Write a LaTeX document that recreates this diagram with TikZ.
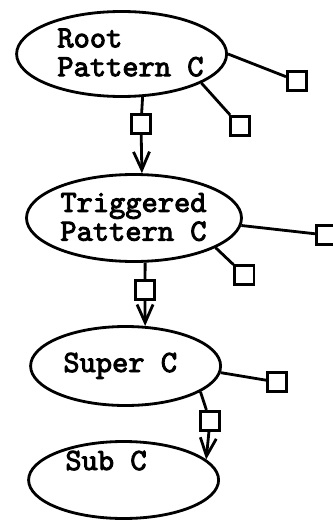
\documentclass[tikz,border=0pt]{standalone}
\usepackage{fontspec}
\newfontfamily\typefont{lmmono10-regular}[Extension=.otf,FakeBold=3]
\usetikzlibrary{shapes.geometric,arrows.meta}

\begin{document}
\begin{tikzpicture}[line width=2pt,>={Straight Barb[length=4.5mm,width=4mm]}]
        \tikzstyle{blob}=[ellipse,draw=black,inner sep=0pt]
        \tikzstyle{slot}=[rectangle,draw=black,fill=white,inner sep=0pt,minimum size=4.8mm]
        \tikzstyle{patname}=[inner sep=0pt,align=left,font={\typefont\fontsize{22}{20.5}\selectfont}]
        \tikzstyle{link}=[draw=black,line width=2pt]

        \useasboundingbox (0,0) rectangle (8.3,-13.025);

        \begin{scope}

            \node [blob,minimum width=5.25cm,minimum height=2.125cm] (root) at (3.04,-1.35) {};
            \node [blob,minimum width=5.375cm,minimum height=2.175cm] (trig) at (3.35,-5.45) {};
            \node [blob,minimum width=4.75cm,minimum height=1.975cm] (super) at (3.14,-9.15) {};
            \node [blob,minimum width=4.75cm,minimum height=1.925cm] (sub) at (3.09,-12.0) {};

            \node [patname,anchor=west] (rootname) at (1.4,-1.3125) {Root\\Pattern C};
            \node [patname,anchor=west] (trigname) at (1.475,-5.425) {Triggered\\Pattern C};
            \node [patname,anchor=base west] (supername) at (1.55,-9.3) {Super C};
            \node [patname,anchor=base west] (subname) at (1.6,-11.75) {Sub C};

            \node [slot] (r1) at (7.425,-2.025) {};
            \node [slot] (r2) at (6.0,-3.15) {};
            \node [slot] (r3) at (3.525,-3.1) {};
            \node [slot] (t1) at (8.15,-5.875) {};
            \node [slot] (t2) at (6.11,-6.875) {};
            \node [slot] (t3) at (3.625,-7.25) {};
            \node [slot] (s1) at (6.925,-9.55) {};
            \node [slot] (s2) at (5.25,-10.525) {};

            \path[link] (root.east) edge (r1);
            \path[link] (root.-20) edge (r2);
            \path[link] (root.-64) edge (r3);
            \path[link] (r3) edge[->] (trig.80);

            \path[link] (trig.-4) edge (t1);
            \path[link] (trig.-20) edge (t2);
            \path[link] (trig.-76) edge (t3);
            \path[link] (t3) edge[->] (super.64);

            \path[link] (super.-4) edge (s1);
            \path[link] (super.-19) edge (s2);
            \path[link] (s2) edge[->] (sub.14);

        \end{scope}
\end{tikzpicture}
\end{document}
